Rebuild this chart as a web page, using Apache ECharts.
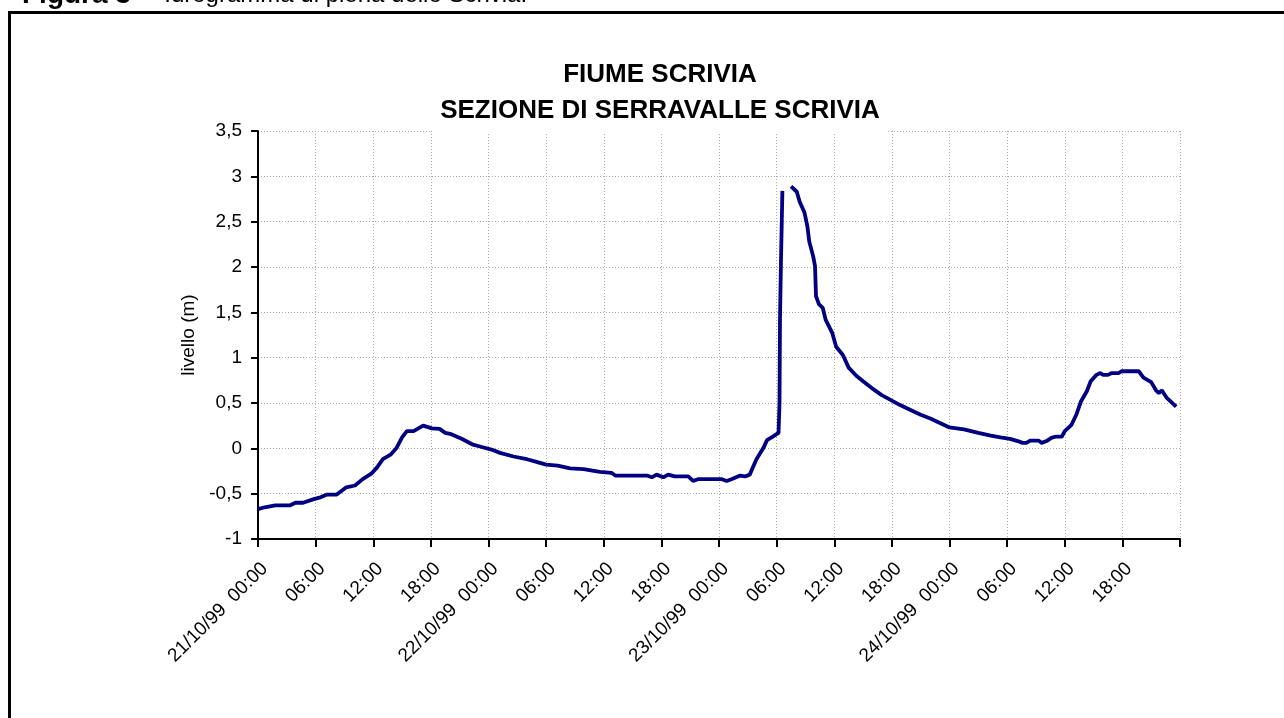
<!DOCTYPE html>
<html>
<head>
<meta charset="utf-8">
<title>Fiume Scrivia</title>
<script src="https://cdn.jsdelivr.net/npm/echarts@6/dist/echarts.min.js"></script>
<style>
  html, body { margin: 0; padding: 0; background: #fff; }
  #chart { width: 1284px; height: 718px; }
</style>
</head>
<body>
<div id="chart"></div>
<script>
// ore dalle 00:00 del 21/10/99, livelli in metri (null = dato mancante)
var hours = [
  0, 0.7, 1.8, 3.3, 3.9, 4.7, 5.8, 6.5, 7.2, 8.2, 9.2, 10.1, 10.9, 11.8, 12.4, 13.0, 13.8, 14.4,
  15.0, 15.5, 16.2, 17.2, 18.1, 18.9, 19.5, 20.0, 21.2, 22.4, 23.1, 24.5, 25.2, 26.6, 28.0, 29.0,
  30.0, 31.2, 32.5, 33.9, 35.6, 36.8, 37.2, 40.5, 41.0, 41.5, 42.2, 42.7, 43.4, 44.8, 45.3, 45.8,
  48.3, 48.8, 49.3, 50.2, 50.7, 51.2, 51.9, 52.6, 53.0, 53.6, 54.2, 54.3, 54.35, 54.45, 54.6,
  55.0,
  55.5, 56.1, 56.4, 56.9, 57.2, 57.4, 57.8, 58.0, 58.1, 58.4, 58.8, 59.1, 59.8, 60.2, 60.9, 61.5,
  62.3, 63.0, 64.1, 64.9, 66.1, 66.8, 68.0, 69.0, 70.0, 71.0, 72.0, 73.5, 75.0, 76.3, 77.3, 78.3,
  79.1, 79.6, 80.0, 80.4, 81.3, 81.6, 82.1, 82.6, 83.1, 83.7, 84.0, 84.7, 85.2, 85.7, 86.3, 86.7,
  87.3, 87.7, 88.0, 88.5, 88.9, 89.6, 89.9, 91.7, 92.2, 93.0, 93.5, 93.8, 94.1, 94.6, 95.6
];
var levels = [
  -0.67, -0.65, -0.63, -0.63, -0.60, -0.60, -0.56, -0.54, -0.51, -0.51, -0.43, -0.41, -0.34, -0.28, -0.21, -0.12, -0.07, 0.0,
  0.12, 0.19, 0.19, 0.25, 0.22, 0.215, 0.17, 0.16, 0.105, 0.04, 0.02, -0.02, -0.05, -0.09, -0.12, -0.15,
  -0.18, -0.19, -0.22, -0.23, -0.26, -0.27, -0.30, -0.30, -0.32, -0.29, -0.32, -0.29, -0.31, -0.31, -0.36, -0.34,
  -0.34, -0.36, -0.34, -0.30, -0.31, -0.29, -0.12, 0.0, 0.09, 0.13, 0.17, 0.50, 1.42, 2.05, 2.84,
  null,
  2.89, 2.83, 2.72, 2.60, 2.45, 2.28, 2.12, 2.01, 1.68, 1.59, 1.55, 1.42, 1.27, 1.12, 1.03, 0.89,
  0.80, 0.74, 0.65, 0.59, 0.52, 0.48, 0.42, 0.37, 0.33, 0.28, 0.23, 0.21, 0.17, 0.14, 0.12, 0.105,
  0.08, 0.06, 0.06, 0.085, 0.085, 0.06, 0.08, 0.115, 0.13, 0.13, 0.19, 0.26, 0.37, 0.52, 0.63, 0.74,
  0.81, 0.83, 0.81, 0.81, 0.83, 0.83, 0.85, 0.85, 0.78, 0.73, 0.64, 0.61, 0.64, 0.56, 0.46
];
var dayLabels = ['21/10/99', '22/10/99', '23/10/99', '24/10/99'];
var hourLabels = ['00:00', '06:00', '12:00', '18:00'];

var FONT = '"Liberation Sans", Arial, sans-serif';

var data = hours.map(function (h, i) { return [h, levels[i]]; });

var chart = echarts.init(document.getElementById('chart'));
chart.setOption({
  animation: false,
  backgroundColor: '#fff',
  title: {
    text: 'FIUME SCRIVIA\nSEZIONE DI SERRAVALLE SCRIVIA',
    left: 652,
    top: 52,
    textAlign: 'center',
    padding: [5, 8],
    backgroundColor: '#fff',
    textStyle: { fontFamily: FONT, fontSize: 26, fontWeight: 'bold', color: '#000', lineHeight: 36 }
  },
  graphic: [
    {
      type: 'rect',
      shape: { x: 9.5, y: 12.5, width: 1300, height: 720 },
      style: { fill: 'none', stroke: '#000', lineWidth: 3 }
    },
    {
      type: 'text',
      x: 22,
      y: 9,
      style: {
        text: '{b|Figura 3}  – Idrogramma di piena dello Scrivia.',
        verticalAlign: 'bottom',
        font: '24px ' + FONT,
        fill: '#000',
        rich: { b: { fontWeight: 'bold', fontSize: 28, fontFamily: FONT, fill: '#000' } }
      }
    }
  ],
  grid: { left: 258, right: 104, top: 131, bottom: 179 },
  xAxis: {
    type: 'value',
    min: 0,
    max: 96,
    interval: 6,
    axisLine: { onZero: false, lineStyle: { color: '#000', width: 2 } },
    axisTick: { length: 8, lineStyle: { color: '#000', width: 2 } },
    axisLabel: {
      rotate: 45,
      margin: 20,
      verticalAlign: 'top',
      fontFamily: FONT,
      fontSize: 19,
      color: '#000',
      formatter: function (v) {
        if (v >= 96) return '';
        var d = Math.floor(v / 24);
        var hl = hourLabels[(v % 24) / 6];
        return v % 24 === 0 ? dayLabels[d] + '  ' + hl : hl;
      }
    },
    splitLine: { show: true, lineStyle: { color: '#aaa', width: 1, type: [1, 2] } }
  },
  yAxis: {
    type: 'value',
    min: -1,
    max: 3.5,
    interval: 0.5,
    name: 'livello (m)',
    nameLocation: 'middle',
    nameGap: 50,
    nameTextStyle: { fontFamily: FONT, fontSize: 19, color: '#000' },
    axisLine: { show: true, lineStyle: { color: '#000', width: 2 } },
    axisTick: { show: true, length: 7, lineStyle: { color: '#000', width: 2 } },
    axisLabel: {
      margin: 16,
      fontFamily: FONT,
      fontSize: 19,
      color: '#000',
      formatter: function (v) { return String(v).replace('.', ','); }
    },
    splitLine: { show: true, lineStyle: { color: '#aaa', width: 1, type: [1, 2] } }
  },
  series: [{
    type: 'line',
    data: data,
    showSymbol: false,
    connectNulls: false,
    lineStyle: { color: '#000080', width: 3.8 }
  }]
});
</script>
</body>
</html>
